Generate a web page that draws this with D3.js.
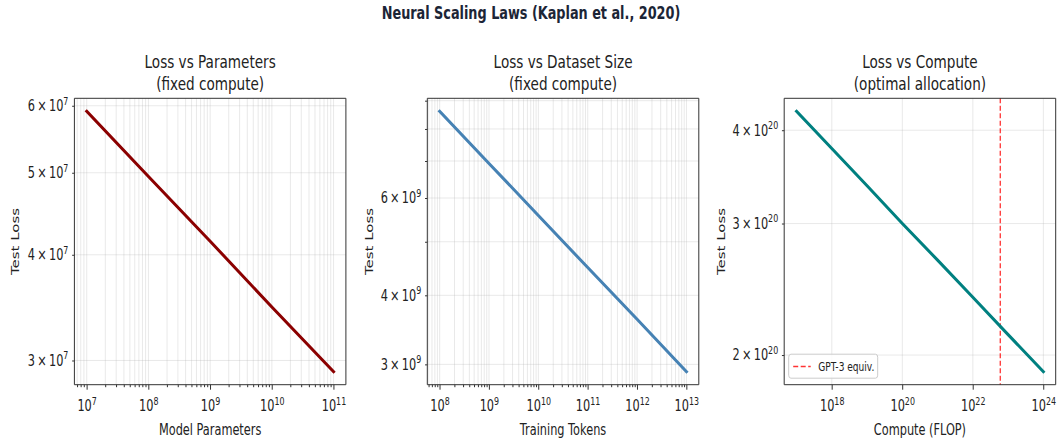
<!DOCTYPE html>
<html>
<head>
<meta charset="utf-8">
<script src="https://cdn.jsdelivr.net/npm/d3@7"></script>
<style>
  body { margin: 0; background: #fff; }
  svg text { font-family: "DejaVu Sans", sans-serif; fill: #222; }
  svg line, svg path, svg rect { vector-effect: non-scaling-stroke; }
</style>
</head>
<body>
<div id="chart-area"></div>
<script>
// figure is squashed horizontally, so everything is drawn inside a scaleX group
const SX = 0.755;
const width = 1059, height = 441;
const TOP = 98.3, BOTTOM = 384.7, PW = 271.5;

// Loss vs Parameters
let paramsN = [1e7, 1e8, 1e9, 1e10, 1e11];
let paramsLoss = [5.91e7, 4.95e7, 4.15e7, 3.47e7, 2.91e7];
let paramsXTicks = [1e7, 1e8, 1e9, 1e10, 1e11];
let paramsYTicks = [3e7, 4e7, 5e7, 6e7];
let paramsYLabels = [3e7, 4e7, 5e7, 6e7];

// Loss vs Dataset Size
let tokensD = [1e8, 1e9, 1e10, 1e11, 1e12, 1e13];
let tokensLoss = [8.61e9, 6.93e9, 5.58e9, 4.49e9, 3.62e9, 2.91e9];
let tokensXTicks = [1e8, 1e9, 1e10, 1e11, 1e12, 1e13];
let tokensYTicks = [3e9, 4e9, 5e9, 6e9, 7e9, 8e9, 9e9];
let tokensYLabels = [3e9, 4e9, 6e9];

// Loss vs Compute
let computeC = [1e17, 1e18, 1e19, 1e20, 1e21, 1e22, 1e23, 1e24];
let computeLoss = [4.24e20, 3.78e20, 3.37e20, 3.00e20, 2.68e20, 2.39e20, 2.13e20, 1.90e20];
let computeXTicks = [1e18, 1e20, 1e22, 1e24];
let computeYTicks = [2e20, 3e20, 4e20];
let computeYLabels = [2e20, 3e20, 4e20];
let gpt3Compute = 6e22;

let svg = d3.select("#chart-area").append("svg")
  .attr("width", width)
  .attr("height", height);
svg.append("rect").attr("width", width).attr("height", height).attr("fill", "#fff");

let root = svg.append("g").attr("transform", "scale(" + SX + ",1)");

root.append("text")
  .attr("x", 531 / SX).attr("y", 19.5)
  .attr("text-anchor", "middle")
  .attr("font-size", 17).attr("font-weight", "bold")
  .style("fill", "#1c2536")
  .text("Neural Scaling Laws (Kaplan et al., 2020)");

// matplotlib style 5% margin in log space
function logPad(vals) {
  let lo = Math.log10(d3.min(vals)), hi = Math.log10(d3.max(vals));
  let m = (hi - lo) * 0.05;
  return [Math.pow(10, lo - m), Math.pow(10, hi + m)];
}

function minorTicks(domain) {
  let out = [];
  let e0 = Math.floor(Math.log10(domain[0])), e1 = Math.ceil(Math.log10(domain[1]));
  for (let e = e0; e <= e1; e++) {
    for (let k = 2; k <= 9; k++) {
      let v = k * Math.pow(10, e);
      if (v >= domain[0] && v <= domain[1]) out.push(v);
    }
  }
  return out;
}

function drawPanel(p) {
  let x = d3.scaleLog().domain(logPad(p.xs)).range([p.left / SX, (p.left + PW) / SX]);
  let y = d3.scaleLog().domain(logPad(p.ys)).range([BOTTOM, TOP]);
  let g = root.append("g");
  let minors = p.minor ? minorTicks(x.domain()) : [];

  // grid
  g.selectAll(".vgrid").data(p.xTicks.concat(minors)).join("line")
    .attr("x1", d => x(d)).attr("x2", d => x(d))
    .attr("y1", TOP).attr("y2", BOTTOM)
    .attr("stroke", "#b0b0b0").attr("stroke-opacity", 0.35).attr("stroke-width", 0.8);
  g.selectAll(".hgrid").data(p.yTicks).join("line")
    .attr("x1", p.left / SX).attr("x2", (p.left + PW) / SX)
    .attr("y1", d => y(d)).attr("y2", d => y(d))
    .attr("stroke", "#b0b0b0").attr("stroke-opacity", 0.35).attr("stroke-width", 0.8);

  // reference line
  if (p.vline) {
    g.append("line")
      .attr("x1", x(p.vline)).attr("x2", x(p.vline))
      .attr("y1", TOP).attr("y2", BOTTOM)
      .attr("stroke", "#ff0000").attr("stroke-opacity", 0.8)
      .attr("stroke-width", 1.3).attr("stroke-dasharray", "5,2.5");
  }

  // data
  g.append("path")
    .datum(d3.zip(p.xs, p.ys))
    .attr("fill", "none")
    .attr("stroke", p.color)
    .attr("stroke-width", 3)
    .attr("stroke-linecap", "square")
    .attr("d", d3.line().x(d => x(d[0])).y(d => y(d[1])));

  // frame
  g.append("rect")
    .attr("x", p.left / SX).attr("y", TOP)
    .attr("width", PW / SX).attr("height", BOTTOM - TOP)
    .attr("fill", "none").attr("stroke", "#333").attr("stroke-width", 1);

  // x axis
  let xAx = g.append("g").attr("transform", "translate(0," + BOTTOM + ")")
    .call(d3.axisBottom(x).tickValues(p.xTicks).tickSize(5).tickFormat(""));
  xAx.select(".domain").remove();
  xAx.selectAll(".tick line").attr("stroke", "#333");
  xAx.selectAll(".tick text").each(function(d) {
    let t = d3.select(this);
    t.attr("y", 411.5 - BOTTOM).attr("dy", null)
      .attr("font-size", 15).attr("font-family", null).style("fill", "#222");
    t.append("tspan").text("10");
    t.append("tspan").attr("dy", -6.5).attr("font-size", 10.5).text(Math.round(Math.log10(d)));
  });
  if (minors.length) {
    let mAx = g.append("g").attr("transform", "translate(0," + BOTTOM + ")")
      .call(d3.axisBottom(x).tickValues(minors).tickSize(2.5).tickFormat(""));
    mAx.select(".domain").remove();
    mAx.selectAll(".tick line").attr("stroke", "#333");
  }

  // y axis
  let yAx = g.append("g").attr("transform", "translate(" + p.left / SX + ",0)")
    .call(d3.axisLeft(y).tickValues(p.yTicks).tickSize(3).tickFormat(""));
  yAx.select(".domain").remove();
  yAx.selectAll(".tick line").attr("stroke", "#333");
  yAx.selectAll(".tick text").each(function(d) {
    if (p.yLabels.indexOf(d) < 0) return;
    let e = Math.floor(Math.log10(d) + 1e-9);
    let m = Math.round(d / Math.pow(10, e));
    let t = d3.select(this);
    t.attr("x", -6 / SX).attr("dy", "0.32em")
      .attr("font-size", 15).attr("font-family", null).style("fill", "#222");
    t.append("tspan").text(m + "\u2009\u00d7\u200910");
    t.append("tspan").attr("dy", -6.5).attr("font-size", 10.5).text(e);
  });

  // titles and labels
  let cx = (p.left + PW / 2) / SX;
  g.append("text").attr("x", cx).attr("y", 68.5).attr("text-anchor", "middle")
    .attr("font-size", 18).text(p.title[0]);
  g.append("text").attr("x", cx).attr("y", 90).attr("text-anchor", "middle")
    .attr("font-size", 18).text(p.title[1]);
  g.append("text").attr("x", cx).attr("y", 435.5).attr("text-anchor", "middle")
    .attr("font-size", 15).text(p.xlabel);
  g.append("text")
    .attr("transform", "translate(" + (p.left - p.ylabelOff) / SX + "," + (TOP + BOTTOM) / 2 + ") rotate(-90)")
    .attr("text-anchor", "middle").attr("dy", "0.35em")
    .attr("font-size", 15).text("Test Loss");

  // legend
  if (p.legend) {
    let lx = (p.left + 4.5) / SX, ly = BOTTOM - 30.5;
    let lg = g.append("g");
    lg.append("rect").attr("x", lx).attr("y", ly).attr("width", 89 / SX).attr("height", 24)
      .attr("rx", 3).attr("fill", "#fff").attr("fill-opacity", 0.85)
      .attr("stroke", "#ccc").attr("stroke-width", 1);
    lg.append("line").attr("x1", lx + 4.5 / SX).attr("x2", lx + 22 / SX)
      .attr("y1", ly + 12.3).attr("y2", ly + 12.3)
      .attr("stroke", "#ff0000").attr("stroke-opacity", 0.8)
      .attr("stroke-width", 1.3).attr("stroke-dasharray", "5,2.5");
    lg.append("text").attr("x", lx + 29.5 / SX).attr("y", ly + 16.5)
      .attr("font-size", 12).text(p.legend);
  }
}

drawPanel({left: 74.4, xs: paramsN, ys: paramsLoss, color: "#8b0000",
  title: ["Loss vs Parameters", "(fixed compute)"], xlabel: "Model Parameters",
  xTicks: paramsXTicks, minor: true, yTicks: paramsYTicks, yLabels: paramsYLabels, ylabelOff: 59});

drawPanel({left: 427.3, xs: tokensD, ys: tokensLoss, color: "#4682b4",
  title: ["Loss vs Dataset Size", "(fixed compute)"], xlabel: "Training Tokens",
  xTicks: tokensXTicks, minor: true, yTicks: tokensYTicks, yLabels: tokensYLabels, ylabelOff: 58});

drawPanel({left: 784.2, xs: computeC, ys: computeLoss, color: "#008080",
  title: ["Loss vs Compute", "(optimal allocation)"], xlabel: "Compute (FLOP)",
  xTicks: computeXTicks, minor: false, yTicks: computeYTicks, yLabels: computeYLabels, ylabelOff: 63,
  vline: gpt3Compute, legend: "GPT-3 equiv."});
</script>
</body>
</html>
